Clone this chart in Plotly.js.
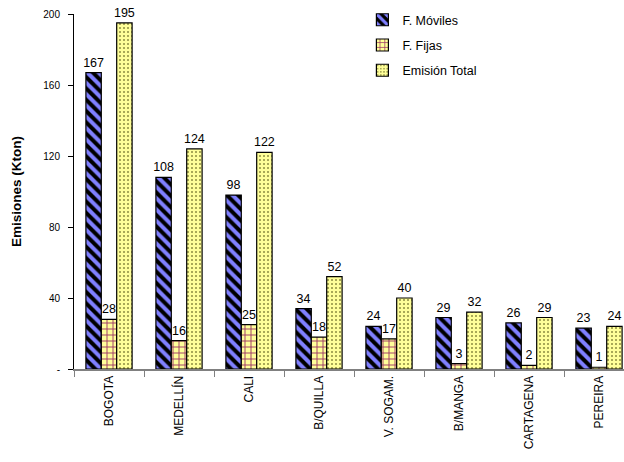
<!DOCTYPE html>
<html>
<head>
<meta charset="utf-8">
<script src="https://cdn.plot.ly/plotly-3.0.1.min.js"></script>
<style>
  html, body { margin: 0; padding: 0; overflow: hidden; background: #fff; }
  #chart { width: 660px; height: 462px; }
</style>
</head>
<body>
<div id="chart"></div>
<script>
// Emissions by city (kton)
const cities = ["BOGOTA", "MEDELLÍN", "CALI", "B/QUILLA", "V. SOGAM.", "B/MANGA", "CARTAGENA", "PEREIRA"];
const fuentesMoviles = [167, 108, 98, 34, 24, 29, 26, 23];
const fuentesFijas = [28, 16, 25, 18, 17, 3, 2, 1];
const emisionTotal = [195, 124, 122, 52, 40, 32, 29, 24];

const seriesNames = ["F. Móviles", "F. Fijas", "Emisión Total"];
const yTicks = [0, 40, 80, 120, 160, 200];
const yTickText = ["-", "40", "80", "120", "160", "200"];

const font = "Liberation Sans, Arial, sans-serif";

function barTrace(name, values, pattern, group) {
  return {
    type: "bar",
    name: name,
    x: cities,
    y: values,
    legendgroup: group,
    text: values.map(String),
    textposition: "outside",
    constraintext: "none",
    cliponaxis: false,
    textfont: { family: font, size: 12.5, color: "#000" },
    marker: {
      color: pattern.bgcolor,
      line: { color: "#000", width: 1.2 },
      pattern: pattern
    }
  };
}

const traces = [
  barTrace(seriesNames[0], fuentesMoviles,
    { shape: "\\", bgcolor: "#000000", fgcolor: "#8080ff", fgopacity: 1, fillmode: "overlay", size: 8, solidity: 0.5 }, "a"),
  barTrace(seriesNames[1], fuentesFijas,
    { shape: "+", bgcolor: "#ffff99", fgcolor: "#993366", fgopacity: 1, fillmode: "overlay", size: 6, solidity: 0.28 }, "b"),
  barTrace(seriesNames[2], emisionTotal,
    { shape: ".", bgcolor: "#ffff99", fgcolor: "#8c8c40", fgopacity: 1, fillmode: "overlay", size: 4, solidity: 0.2 }, "c")
];

const layout = {
  width: 660,
  height: 462,
  margin: { l: 74, r: 26, t: 14, b: 93, autoexpand: false },
  paper_bgcolor: "#ffffff",
  plot_bgcolor: "#ffffff",
  font: { family: font, color: "#000" },
  barmode: "group",
  bargap: 0.34,
  bargroupgap: 0,
  showlegend: true,
  legend: {
    x: 0.515, y: 1.025, xanchor: "left", yanchor: "top",
    font: { family: font, size: 12.5, color: "#000" },
    traceorder: "grouped",
    tracegroupgap: 6,
    itemwidth: 30,
    bgcolor: "rgba(0,0,0,0)"
  },
  xaxis: {
    type: "category",
    tickangle: -90,
    tickfont: { family: font, size: 12, color: "#000" },
    ticks: "outside",
    tickson: "boundaries",
    ticklen: 6,
    tickcolor: "#808080",
    showline: true,
    linecolor: "#808080",
    linewidth: 2,
    showgrid: false,
    zeroline: false,
    automargin: false,
    fixedrange: true
  },
  yaxis: {
    range: [0, 200],
    tickvals: yTicks,
    ticktext: yTickText,
    tickfont: { family: font, size: 10, color: "#000" },
    ticks: "outside",
    ticklen: 5,
    tickcolor: "#000",
    ticklabelstandoff: 6,
    showline: true,
    linecolor: "#000",
    linewidth: 1,
    showgrid: false,
    zeroline: false,
    automargin: false,
    title: { text: "<b>Emisiones (Kton)</b>", font: { family: font, size: 13.5, color: "#000" }, standoff: 18 },
    fixedrange: true
  }
};

Plotly.newPlot("chart", traces, layout, { displayModeBar: false, staticPlot: true });
</script>
</body>
</html>
